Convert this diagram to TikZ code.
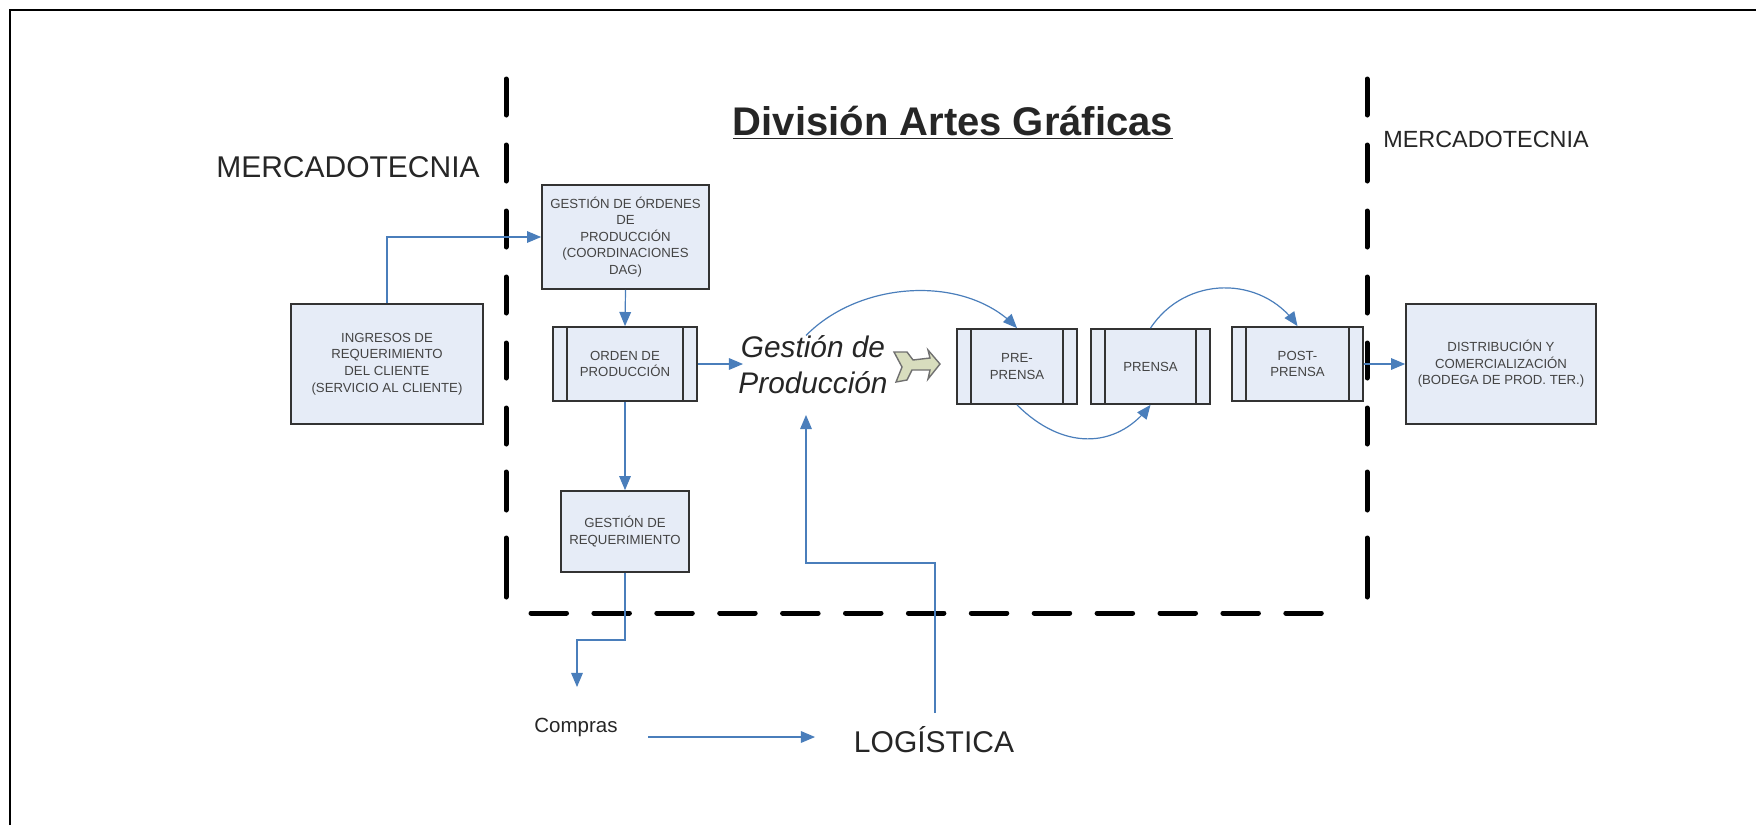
\documentclass[tikz,border=0pt]{standalone}
\usepackage{fontspec}
\setmainfont{Liberation Sans}
\usepackage{tikz}
\usetikzlibrary{arrows}
\definecolor{boxfill}{HTML}{E6ECF7}
\definecolor{flowblue}{HTML}{4A7EBB}
\definecolor{boxline}{HTML}{333333}
\definecolor{boxtext}{HTML}{444444}
\definecolor{notchfill}{HTML}{D8DDBE}

\begin{document}
\begin{tikzpicture}[x=.5pt,y=-.5pt]

	\tikzstyle limit lines=[line width=2.5pt, line cap=round];
	\tikzstyle flow lines=[line width=.6pt, flowblue, -triangle 45];
	\tikzstyle process box=[draw=boxline, line width=.9pt, fill=boxfill, text=boxtext, inner sep=0pt, align=center, font=\fontsize{6.6}{8.3}\selectfont];
	\tikzstyle process lines=[boxline, line width=.9pt];
	\tikzstyle area label=[inner sep=0pt, text=black!85];

	\useasboundingbox (0,0) rectangle (1756,825);
	\draw[line width=1pt] (10,825) -- (10,10) -- (1756,10);

	\foreach \x in {506,1367}
		\foreach \y/\z in {79/115,145/181,211/247,277/313,343/378,408/444,472/510,538/597}
			\draw[limit lines] (\x,\y) -- (\x,\z);
	\foreach \x in {531,593.9,...,1290}
		\draw[limit lines] (\x,613) -- ++(35.5,0);

	\node[area label, font=\fontsize{20}{24}\selectfont\bfseries] (titulo) at (953,123) {\underline{División Artes Gráficas}};
	\node[area label, font=\fontsize{15}{18}\selectfont] (mercado left) at (348,167) {MERCADOTECNIA};
	\node[area label, font=\fontsize{11.7}{14}\selectfont] (mercado right) at (1486,139) {MERCADOTECNIA};
	\node[area label, font=\fontsize{15}{18}\selectfont] (logistica) at (934,740) {LOGÍSTICA};
	\node[area label, font=\fontsize{10.25}{12}\selectfont] (compras) at (576,727) {Compras};
	\node[area label, align=center, font=\fontsize{14.9}{18}\selectfont\itshape] (produccion) at (813,365) {Gestión de\\Producción};

	\node[process box, minimum width=96pt, minimum height=60pt] (ingresos) at (387,364) {INGRESOS DE\\REQUERIMIENTO\\DEL CLIENTE\\(SERVICIO AL CLIENTE)};
	\node[process box, minimum width=83.5pt, minimum height=52pt] (ordenes) at (625.5,237) {GESTIÓN DE ÓRDENES\\DE\\PRODUCCIÓN\\(COORDINACIONES\\DAG)};
	\node[process box, minimum width=72pt, minimum height=37pt] (orden) at (625,364) {ORDEN DE\\PRODUCCIÓN};
	\node[process box, minimum width=64pt, minimum height=40.5pt] (requerimiento) at (625,531.5) {GESTIÓN DE\\REQUERIMIENTO};
	\node[process box, minimum width=60pt, minimum height=37.5pt] (preprensa) at (1017,366.5) {PRE-\\PRENSA};
	\node[process box, minimum width=59.5pt, minimum height=37.5pt] (prensa) at (1150.5,366.5) {PRENSA};
	\node[process box, minimum width=65.5pt, minimum height=37pt] (postprensa) at (1297.5,364) {POST-\\PRENSA};
	\node[process box, minimum width=95pt, minimum height=60pt] (distribucion) at (1501,364) {DISTRIBUCIÓN Y\\COMERCIALIZACIÓN\\(BODEGA DE PROD. TER.)};

	\foreach \name in {orden,preprensa,prensa,postprensa} {
		\draw[process lines] ([xshift=7.5pt]\name.north west) -- ([xshift=7.5pt]\name.south west);
		\draw[process lines] ([xshift=-7.5pt]\name.north east) -- ([xshift=-7.5pt]\name.south east);
	}

	\draw[boxline!70, line width=.7pt, fill=notchfill] (894,352) -- (907,352) -- (913,360) -- (930,358) -- (928,350) -- (940,364) -- (928,379) -- (930,370) -- (912,370) -- (907,380) -- (896,382) -- (902,367) -- cycle;

	\coordinate (compras bend) at (577,640);
	\coordinate (compras top) at (577,687);
	\coordinate (compras out) at (648,737);
	\coordinate (logistica in) at (815,737);
	\coordinate (logistica top) at (935,713);
	\coordinate (logistica bend) at (806,563);
	\coordinate (produccion bottom) at (806,415);
	\coordinate (produccion in) at (743,364);

	\draw[flow lines] (ingresos.north) |- (ordenes.west);
	\draw[flow lines] (ordenes.south) -- (orden.north);
	\draw[flow lines] (orden.east) -- (produccion in);
	\draw[flow lines] (orden.south) -- (requerimiento.north);
	\draw[flow lines] (requerimiento.south) |- (compras bend) -- (compras top);
	\draw[flow lines] (compras out) -- (logistica in);
	\draw[flow lines] (logistica top) |- (logistica bend) -- (produccion bottom);
	\draw[flow lines] ([xshift=-3.5pt]produccion.north) .. controls +(54,-55) and +(-52,-54) .. (preprensa.north);
	\draw[flow lines] (preprensa.south) .. controls +(45,45) and +(-35,45) .. (prensa.south);
	\draw[flow lines] (prensa.north) .. controls +(35,-53) and +(-36,-51) .. (postprensa.north);
	\draw[flow lines] (postprensa.east) -- (distribucion.west);

\end{tikzpicture}
\end{document}
